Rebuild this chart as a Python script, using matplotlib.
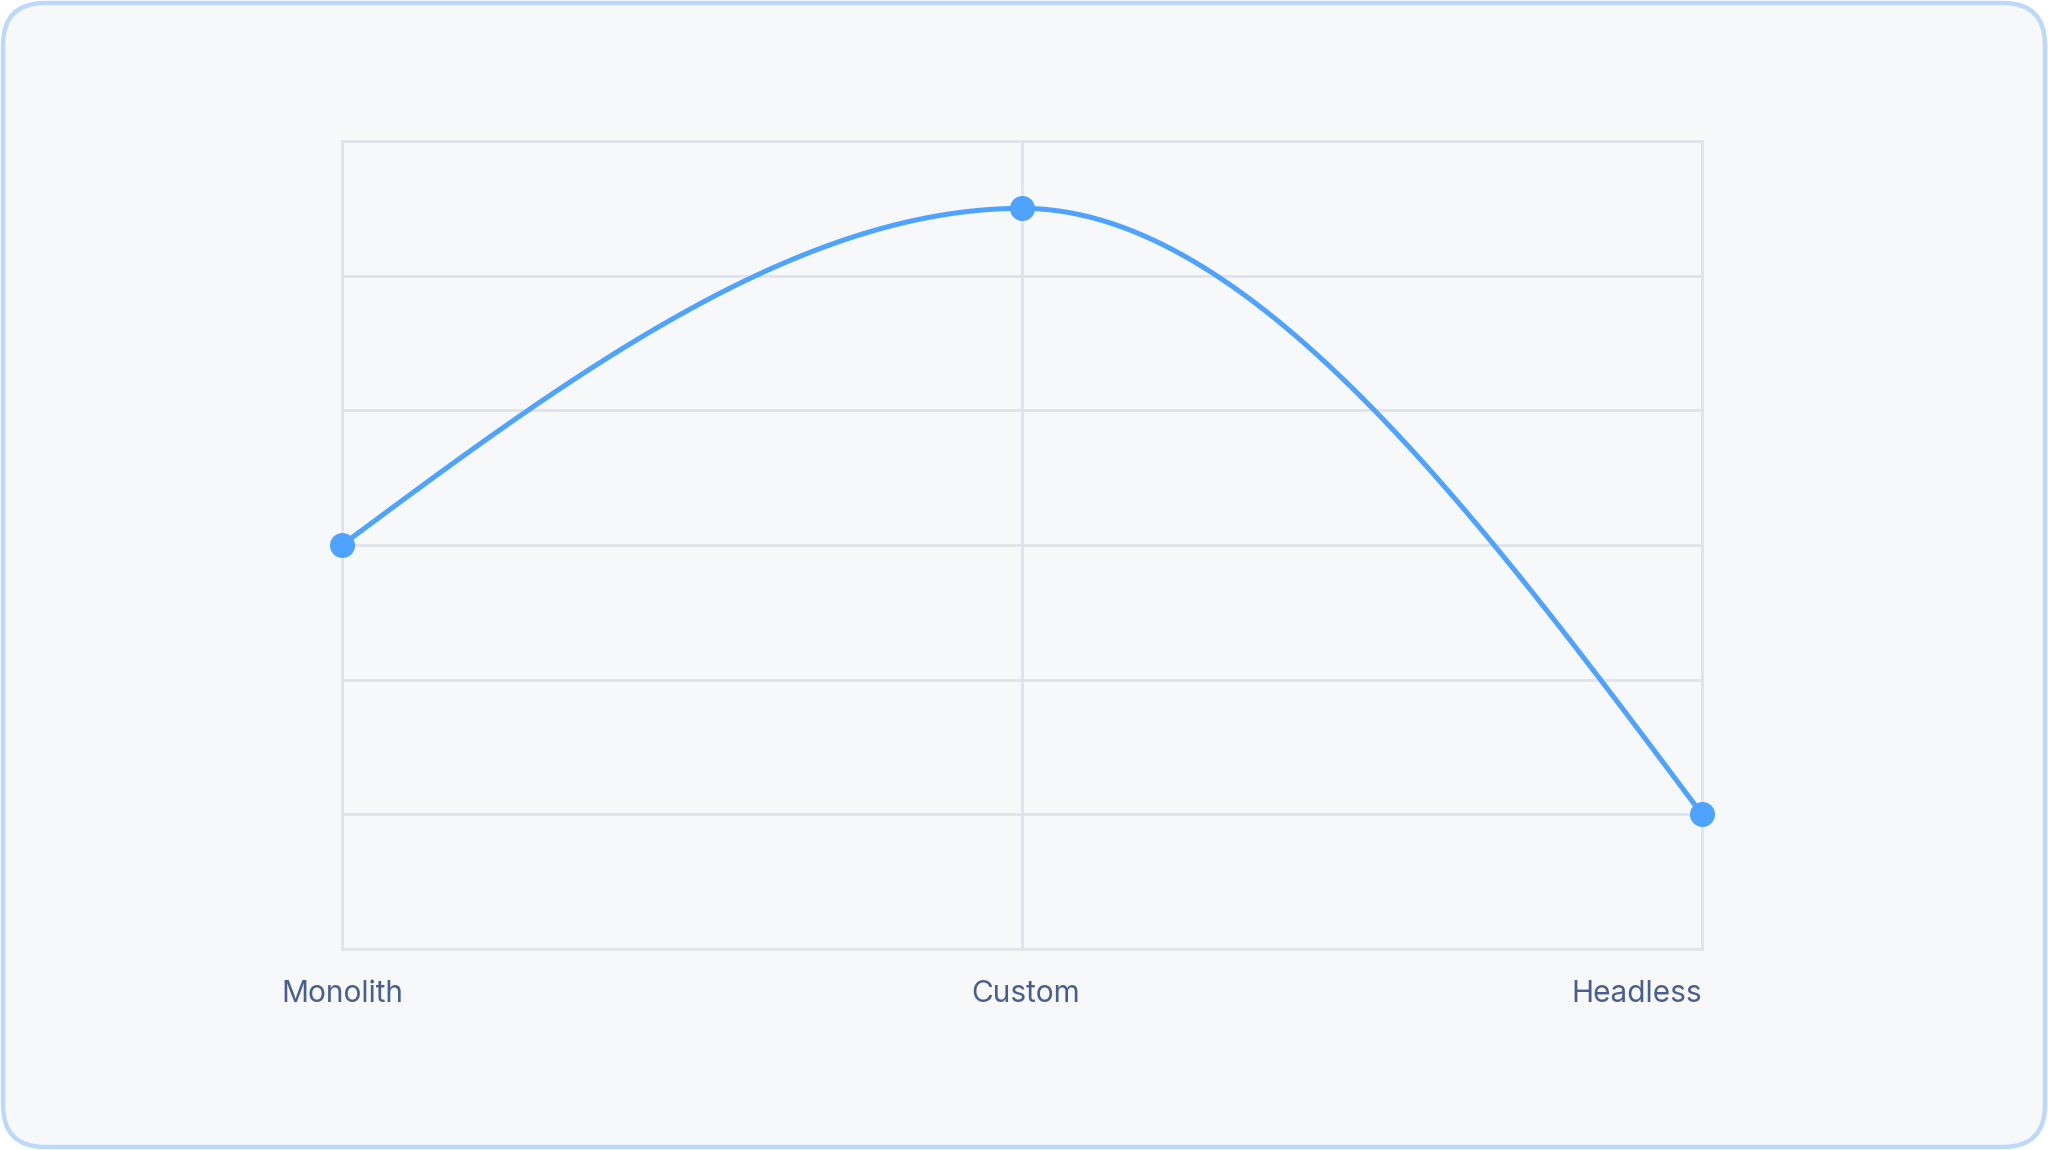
import numpy as np
import matplotlib
matplotlib.use("Agg")
import matplotlib.pyplot as plt
from matplotlib.patches import FancyBboxPatch

categories = ["Monolith", "Custom", "Headless"]
values = [3.0, 5.5, 1.0]
y_ticks = [0, 1, 2, 3, 4, 5, 6]

LINE = "#4da3ff"
GRID = "#e0e4ea"
TEXT = "#4a5e8e"
BG = "#f6f8fa"
BORDER = "#bcd8fa"

W, H = 2048, 1150


def monotone_x(xs, ys, n=200):
    xs = np.asarray(xs, float)
    ys = np.asarray(ys, float)
    h = np.diff(xs)
    s = np.diff(ys) / h
    t = np.zeros_like(ys)
    for i in range(1, len(xs) - 1):
        if s[i - 1] * s[i] <= 0:
            t[i] = 0.0
        else:
            p = (s[i - 1] * h[i] + s[i] * h[i - 1]) / (h[i - 1] + h[i])
            t[i] = (np.sign(s[i - 1]) + np.sign(s[i])) * min(abs(s[i - 1]), abs(s[i]), 0.5 * abs(p))
    t[0] = (3 * s[0] - t[1]) / 2
    t[-1] = (3 * s[-1] - t[-2]) / 2
    px, py = [], []
    for i in range(len(xs) - 1):
        u = np.linspace(0, 1, n)
        h00 = 2 * u**3 - 3 * u**2 + 1
        h10 = u**3 - 2 * u**2 + u
        h01 = -2 * u**3 + 3 * u**2
        h11 = u**3 - u**2
        px.append(xs[i] + u * h[i])
        py.append(h00 * ys[i] + h10 * h[i] * t[i] + h01 * ys[i + 1] + h11 * h[i] * t[i + 1])
    return np.concatenate(px), np.concatenate(py)


fig = plt.figure(figsize=(W / 100, H / 100), dpi=100)
fig.patch.set_facecolor("white")

bg = fig.add_axes([0, 0, 1, 1], zorder=-1)
bg.set_xlim(0, W)
bg.set_ylim(0, H)
bg.axis("off")
card = FancyBboxPatch((3, 3), W - 6, H - 6,
                      boxstyle="round,pad=0,rounding_size=42",
                      facecolor=BG, edgecolor=BORDER, linewidth=3.2)
bg.add_patch(card)

ax = fig.add_axes([342 / W, 1 - 949 / H, (1702 - 342) / W, (949 - 141) / H], zorder=1)
ax.set_facecolor("none")
x = np.arange(len(categories))
ax.set_xlim(0, len(categories) - 1)
ax.set_ylim(y_ticks[0], y_ticks[-1])
ax.set_yticks(y_ticks)
ax.set_xticks(x)
ax.grid(True, color=GRID, linewidth=2.0)
ax.set_axisbelow(True)
for sp in ax.spines.values():
    sp.set_color(GRID)
    sp.set_linewidth(2.0)
ax.tick_params(length=0, labelleft=False, labelbottom=False)

cx, cy = monotone_x(x, values)
ax.plot(cx, cy, color=LINE, linewidth=3.6, solid_capstyle="round", clip_on=False, zorder=3)
ax.plot(x, values, "o", color=LINE, markersize=17, clip_on=False, zorder=4)

aligns = ["center", "center", "right"]
offsets = [0, 4, 0]
for xi, lab, ha, dx in zip(x, categories, aligns, offsets):
    ax.annotate(lab, (xi, 0), xycoords=("data", "axes fraction"), xytext=(dx, -45),
                textcoords="offset pixels", ha=ha, va="center", fontsize=21.5,
                color=TEXT, family=["Inter", "DejaVu Sans"])

fig.savefig("out.png", dpi=100, facecolor=fig.get_facecolor())
